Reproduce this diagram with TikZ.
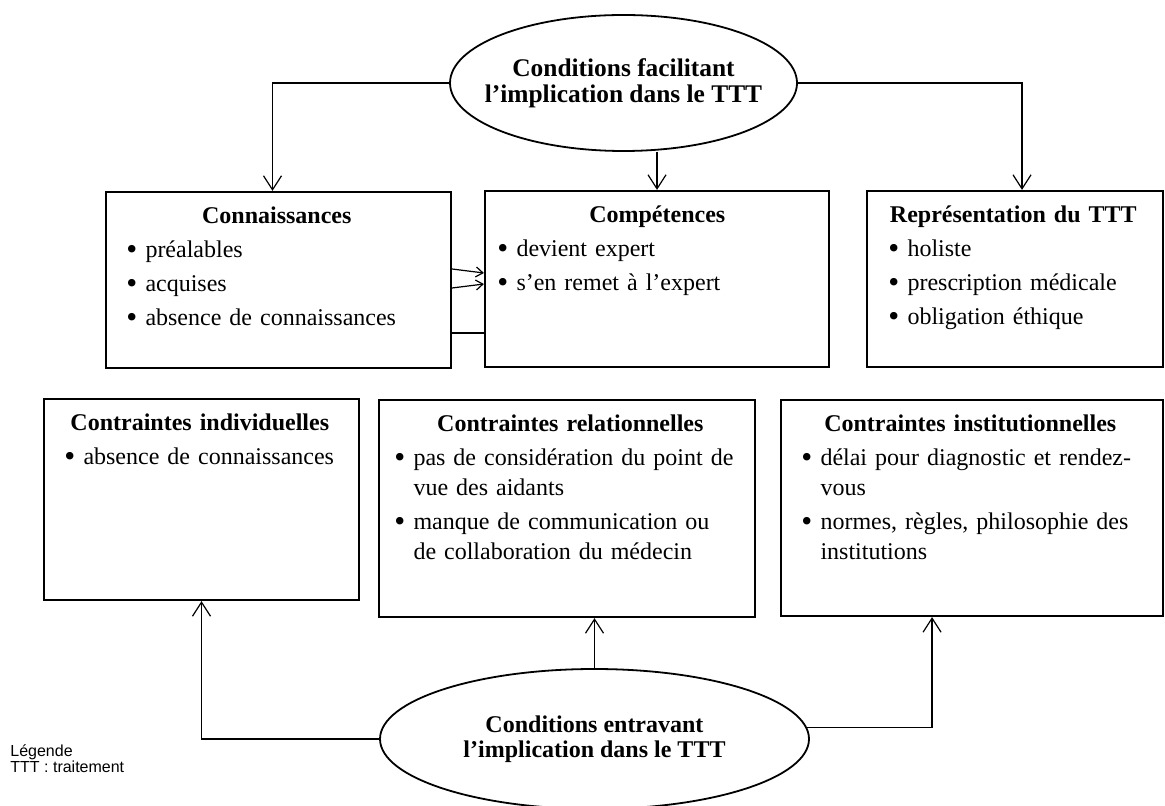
\documentclass[tikz,border=0pt]{standalone}
\usepackage{fontspec}
\setmainfont{Liberation Serif}
\newfontfamily\legfont{Liberation Sans}
\usetikzlibrary{shapes.geometric,calc,arrows.meta,positioning,fit}

% puce avec retrait suspendu
\newcommand{\puce}[1]{\par\hangindent=0.8em\hangafter=1\noindent\makebox[0.8em][l]{\raisebox{-0.9pt}{\scalebox{1.3}{\textbullet}}}#1\par}

\begin{document}
\begin{tikzpicture}[x=0.5pt, y=-0.5pt, font=\fontsize{12}{15}\selectfont,
  cadre/.style={draw, line width=1.1pt, inner sep=0pt},
  texte/.style={anchor=base west, inner sep=0pt, align=left, execute at begin node={\setlength{\parskip}{2pt}}},
  bulle/.style={draw, ellipse, line width=0.9pt, inner xsep=-25pt, inner ysep=0pt, align=center},
  fleche/.style={-{Straight Barb[length=7pt,width=9pt]}, line width=0.6pt},
  petite/.style={-{Straight Barb[length=3.5pt,width=5pt]}, line width=0.6pt},
  legende/.style={anchor=north west, inner sep=0pt, align=left, font=\legfont\fontsize{8}{8}\selectfont}]
\useasboundingbox (0,0) rectangle (1165,806);

% conditions facilitant
\node[bulle, minimum width=173.5pt, minimum height=68pt, font=\bfseries\fontsize{12.7}{13}\selectfont] (haut) at (623.5,83) {Conditions facilitant\\l’implication dans le TTT};

\node[cadre, fit={(106,192) (451,368)}] (conn) {};
\node[cadre, fit={(485,191) (829,367)}] (comp) {};
\node[cadre, fit={(867,191) (1163,367)}] (rep) {};

\node[texte, text width=150.5pt] (conn-t) at ($(conn.north west)+(21,33)$) {{\centering\textbf{Connaissances}\par}\puce{préalables}\puce{acquises}\puce{absence de connaissances}};
\node[texte, text width=160pt] (comp-t) at ($(comp.north west)+(13,33)$) {{\centering\textbf{Compétences}\par}\puce{devient expert}\puce{s’en remet à l’expert}};
\node[texte, text width=125pt] (rep-t) at ($(rep.north west)+(22,33)$) {{\centering\textbf{Représentation du TTT}\par}\puce{holiste}\puce{prescription médicale}\puce{obligation éthique}};

\draw[fleche] (haut.west) -| ([xshift=-3pt]conn.north);
\draw[fleche] (haut.east) -| ([xshift=3.5pt]rep.north);
\draw[fleche] (comp.north |- haut.south) -- (comp.north);
\draw[petite] ([yshift=5.5pt]conn.east) -- ([yshift=3pt]comp.west);
\draw[petite] ([yshift=-4pt]conn.east) -- ([yshift=-2.5pt]comp.west);
\draw[line width=0.6pt] ([yshift=-26.5pt]conn.east) -- ([yshift=-26.5pt]conn.east -| comp.west);

% contraintes
\node[cadre, fit={(44,399) (359,600)}] (ind) {};
\node[cadre, fit={(379,400) (755,617)}] (rel) {};
\node[cadre, fit={(781,400) (1163,616)}] (inst) {};

\node[texte, text width=135.5pt] (ind-t) at ($(ind.north west)+(21,33)$) {{\centering\textbf{Contraintes individuelles}\par}\puce{absence de connaissances}};
\node[texte, text width=176pt] (rel-t) at ($(rel.north west)+(16,33)$) {{\centering\textbf{Contraintes relationnelles}\par}\puce{pas de considération du point de\newline vue des aidants}\puce{manque de communication ou\newline de collaboration du médecin}};
\node[texte, text width=169pt] (inst-t) at ($(inst.north west)+(21,33)$) {{\centering\textbf{Contraintes institutionnelles}\par}\puce{délai pour diagnostic et rendez-\newline vous}\puce{normes, règles, philosophie des\newline institutions}};

% conditions entravant
\node[bulle, minimum width=214.5pt, minimum height=70pt, font=\bfseries\fontsize{12}{12.5}\selectfont] (bas) at (594.5,739) {Conditions entravant\\l’implication dans le TTT};

\draw[fleche] (bas.west) -| (ind.south);
\draw[fleche] (bas.north) -- (bas.north |- rel.south);
\draw[fleche] (bas.3) -| ($(inst.south west)!0.396!(inst.south east)$);

\node[legende] (leg) at (10,744) {Légende\\TTT : traitement};
\end{tikzpicture}
\end{document}
